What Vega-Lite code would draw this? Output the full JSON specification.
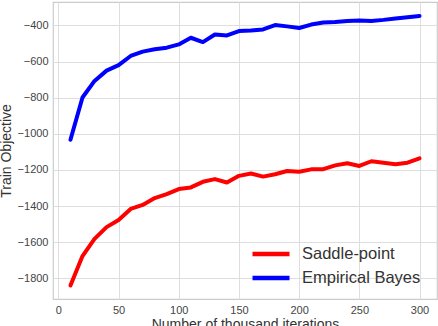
{
  "$schema": "https://vega.github.io/schema/vega-lite/v6.json",
  "width": 384,
  "height": 297,
  "autosize": {"type": "none"},
  "padding": {"left": 53, "top": 2, "right": 1, "bottom": 27},
  "background": "white",
  "config": {
    "font": "Liberation Sans",
    "view": {"stroke": "#cccccc", "strokeWidth": 1.2},
    "axis": {
      "grid": true,
      "gridColor": "#dedede",
      "gridWidth": 1,
      "domain": false,
      "ticks": false,
      "labelFont": "Liberation Sans",
      "labelFontSize": 11,
      "labelColor": "#444444",
      "titleFont": "Liberation Sans",
      "titleFontSize": 14,
      "titleFontWeight": "normal",
      "titleColor": "#333333"
    }
  },
  "data": {
    "values": [
      {"iter": 10, "objective": -1840, "method": "Saddle-point"},
      {"iter": 20, "objective": -1677, "method": "Saddle-point"},
      {"iter": 30, "objective": -1582, "method": "Saddle-point"},
      {"iter": 40, "objective": -1517, "method": "Saddle-point"},
      {"iter": 50, "objective": -1477, "method": "Saddle-point"},
      {"iter": 60, "objective": -1416, "method": "Saddle-point"},
      {"iter": 70, "objective": -1394, "method": "Saddle-point"},
      {"iter": 80, "objective": -1356, "method": "Saddle-point"},
      {"iter": 90, "objective": -1334, "method": "Saddle-point"},
      {"iter": 100, "objective": -1306, "method": "Saddle-point"},
      {"iter": 110, "objective": -1297, "method": "Saddle-point"},
      {"iter": 120, "objective": -1266, "method": "Saddle-point"},
      {"iter": 130, "objective": -1251, "method": "Saddle-point"},
      {"iter": 140, "objective": -1270, "method": "Saddle-point"},
      {"iter": 150, "objective": -1233, "method": "Saddle-point"},
      {"iter": 160, "objective": -1220, "method": "Saddle-point"},
      {"iter": 170, "objective": -1237, "method": "Saddle-point"},
      {"iter": 180, "objective": -1224, "method": "Saddle-point"},
      {"iter": 190, "objective": -1206, "method": "Saddle-point"},
      {"iter": 200, "objective": -1210, "method": "Saddle-point"},
      {"iter": 210, "objective": -1197, "method": "Saddle-point"},
      {"iter": 220, "objective": -1196, "method": "Saddle-point"},
      {"iter": 230, "objective": -1175, "method": "Saddle-point"},
      {"iter": 240, "objective": -1163, "method": "Saddle-point"},
      {"iter": 250, "objective": -1178, "method": "Saddle-point"},
      {"iter": 260, "objective": -1152, "method": "Saddle-point"},
      {"iter": 270, "objective": -1160, "method": "Saddle-point"},
      {"iter": 280, "objective": -1169, "method": "Saddle-point"},
      {"iter": 290, "objective": -1160, "method": "Saddle-point"},
      {"iter": 300, "objective": -1136, "method": "Saddle-point"},
      {"iter": 10, "objective": -1033, "method": "Empirical Bayes"},
      {"iter": 20, "objective": -799, "method": "Empirical Bayes"},
      {"iter": 30, "objective": -707, "method": "Empirical Bayes"},
      {"iter": 40, "objective": -650, "method": "Empirical Bayes"},
      {"iter": 50, "objective": -620, "method": "Empirical Bayes"},
      {"iter": 60, "objective": -569, "method": "Empirical Bayes"},
      {"iter": 70, "objective": -545, "method": "Empirical Bayes"},
      {"iter": 80, "objective": -532, "method": "Empirical Bayes"},
      {"iter": 90, "objective": -523, "method": "Empirical Bayes"},
      {"iter": 100, "objective": -505, "method": "Empirical Bayes"},
      {"iter": 110, "objective": -468, "method": "Empirical Bayes"},
      {"iter": 120, "objective": -492, "method": "Empirical Bayes"},
      {"iter": 130, "objective": -450, "method": "Empirical Bayes"},
      {"iter": 140, "objective": -455, "method": "Empirical Bayes"},
      {"iter": 150, "objective": -431, "method": "Empirical Bayes"},
      {"iter": 160, "objective": -428, "method": "Empirical Bayes"},
      {"iter": 170, "objective": -422, "method": "Empirical Bayes"},
      {"iter": 180, "objective": -398, "method": "Empirical Bayes"},
      {"iter": 190, "objective": -405, "method": "Empirical Bayes"},
      {"iter": 200, "objective": -414, "method": "Empirical Bayes"},
      {"iter": 210, "objective": -395, "method": "Empirical Bayes"},
      {"iter": 220, "objective": -384, "method": "Empirical Bayes"},
      {"iter": 230, "objective": -381, "method": "Empirical Bayes"},
      {"iter": 240, "objective": -375, "method": "Empirical Bayes"},
      {"iter": 250, "objective": -373, "method": "Empirical Bayes"},
      {"iter": 260, "objective": -375, "method": "Empirical Bayes"},
      {"iter": 270, "objective": -369, "method": "Empirical Bayes"},
      {"iter": 280, "objective": -361, "method": "Empirical Bayes"},
      {"iter": 290, "objective": -355, "method": "Empirical Bayes"},
      {"iter": 300, "objective": -348, "method": "Empirical Bayes"}
    ]
  },
  "mark": {"type": "line", "strokeWidth": 4, "strokeCap": "round", "strokeJoin": "round"},
  "encoding": {
    "x": {
      "field": "iter",
      "type": "quantitative",
      "title": "Number of thousand iterations",
      "scale": {"domain": [-4.5, 314.5], "nice": false, "zero": false},
      "axis": {"values": [0, 50, 100, 150, 200, 250, 300], "labelPadding": 5, "titlePadding": 2}
    },
    "y": {
      "field": "objective",
      "type": "quantitative",
      "title": "Train Objective",
      "scale": {"domain": [-1915, -270], "nice": false, "zero": false},
      "axis": {"values": [-1800, -1600, -1400, -1200, -1000, -800, -600, -400], "format": "d", "labelPadding": 5, "titlePadding": 4}
    },
    "color": {
      "field": "method",
      "type": "nominal",
      "scale": {"domain": ["Saddle-point", "Empirical Bayes"], "range": ["#ff0000", "#0000ff"]},
      "legend": {
        "title": null,
        "orient": "none",
        "legendX": 208,
        "legendY": 242,
        "symbolType": "M-2.5,0H2.5",
        "symbolSize": 219,
        "symbolStrokeWidth": 4.5,
        "labelFontSize": 16.5,
        "labelFont": "Liberation Sans",
        "labelColor": "#333333",
        "labelOffset": 21,
        "rowPadding": 5
      }
    }
  }
}
